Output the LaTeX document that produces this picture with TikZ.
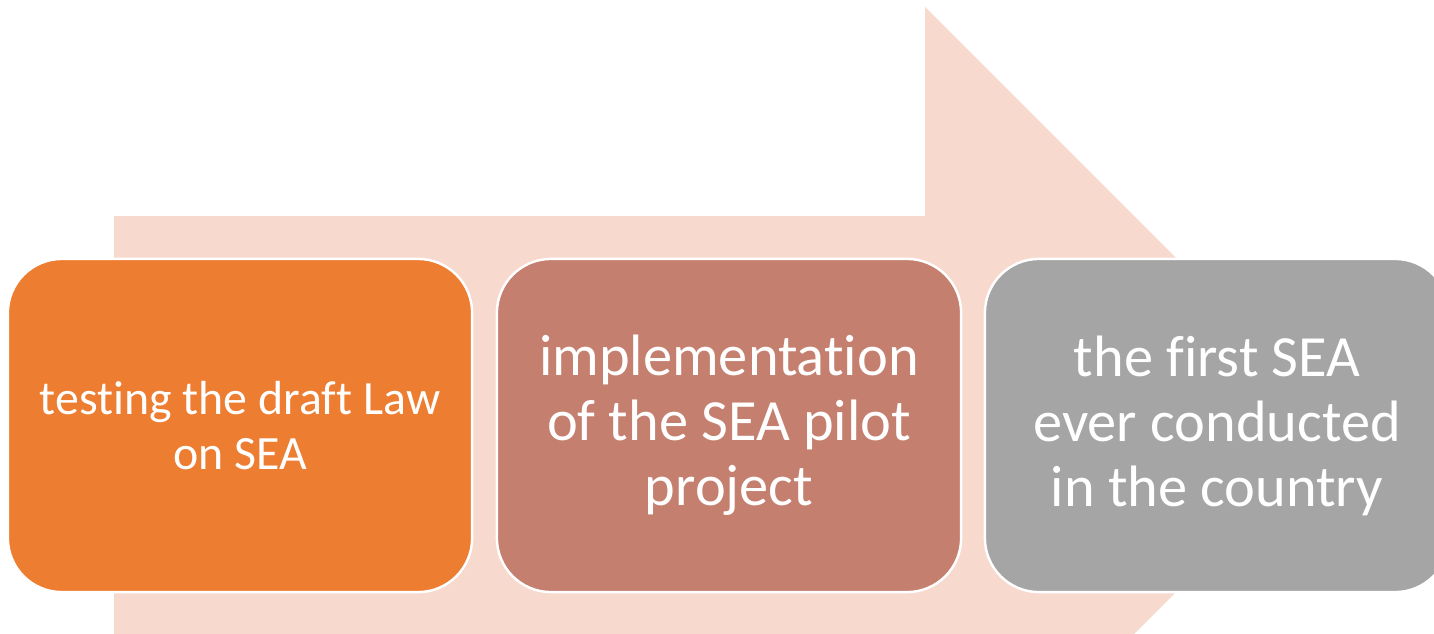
\documentclass[tikz,border=0pt]{standalone}
\usepackage{fontspec}
\setmainfont{Carlito}[Ligatures=NoCommon]
\usepackage{tikz}
\usetikzlibrary{positioning}
\definecolor{arrowpeach}{HTML}{F7D9CE}
\definecolor{steporange}{HTML}{ED7D31}
\definecolor{steprose}{HTML}{C47F6F}
\definecolor{stepgray}{HTML}{A5A5A5}
\tikzset{Stage/.style={draw=white, line width=0.7pt, rounded corners=0.54cm, minimum width=4.64cm, minimum height=3.33cm, inner sep=0pt, align=center, text=white}}
\tikzset{Small Text/.style={font=\fontsize{13.6}{15.4}\selectfont}}
\tikzset{Big Text/.style={font=\fontsize{16.6}{18.5}\selectfont}}

\begin{document}
\begin{tikzpicture}[x=0.01cm, y=-0.01cm]
\clip (0,0) rectangle (1434,633);
\fill[white] (0,0) rectangle (1434,633);

% big arrow behind the stages
\fill[arrowpeach] (114,216) -- (925,216) -- (925,7) -- (1343,425) -- (925,843) -- (925,634) -- (114,634) -- cycle;

\node[Stage, Small Text, fill=steporange] (law) at (240,425.5) {testing the draft Law\\on SEA};
\node[Stage, Big Text, fill=steprose] (pilot) at (729,425.5) {implementation\\of the SEA pilot\\project};
\node[Stage, Big Text, fill=stepgray] (first) at (1217,425.5) {the first SEA\\ever conducted\\in the country};
\end{tikzpicture}
\end{document}
